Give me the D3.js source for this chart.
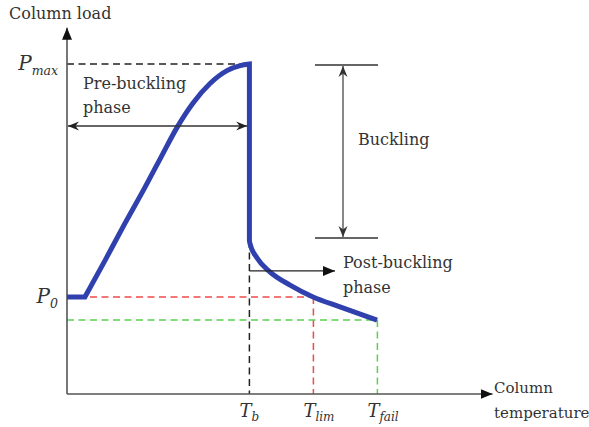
<!DOCTYPE html>
<html>
<head>
<meta charset="utf-8">
<script src="https://cdn.jsdelivr.net/npm/d3@7"></script>
<style>
  html, body { margin: 0; padding: 0; background: #fff; }
  svg { display: block; }
  text { font-family: "DejaVu Serif", "Liberation Serif", serif; fill: #333; }
</style>
</head>
<body>
<svg id="chart" width="589" height="427"></svg>
<script>
// Column load vs. column temperature (schematic)
const preTemp  = [0, 5.6, 11.9, 18.1, 24.4, 29.4, 34.4, 39.4, 44.7, 50, 54.1, 57];
const preLoad  = [29.4, 29.4, 40.5, 51.7, 62.7, 71.8, 80.8, 88.2, 94.1, 98.0, 99.5, 100];
const postTemp = [57, 57.2, 59.4, 63.4, 69.7, 76.9, 85.3, 96.9];
const postLoad = [46.4, 45.5, 41.2, 37.0, 33.0, 29.4, 26.4, 22.4];

const tickNames = ["b", "lim", "fail"];
const tickTemps = [57, 77, 97];
const loadNames = ["max", "0"];
const loadLevels = [100, 29.4];
const failLoad = 22.4;

const svg = d3.select("#chart");
const x = d3.scaleLinear().domain([0, 133]).range([67, 492.6]);
const y = d3.scaleLinear().domain([0, 111]).range([394, 27.7]);

const defs = svg.append("defs");
function marker(id, d, color, w, h) {
  defs.append("marker")
    .attr("id", id).attr("viewBox", "-12 -6 13 12")
    .attr("refX", 0).attr("refY", 0)
    .attr("markerWidth", w).attr("markerHeight", h)
    .attr("markerUnits", "userSpaceOnUse")
    .attr("orient", "auto-start-reverse")
    .append("path").attr("d", d).attr("fill", color);
}
marker("tri", "M0,0 L-12,-5 L-12,5 Z", "#111", 13, 12);
marker("stealth", "M0,0 L-11,-4.5 L-7.5,0 L-11,4.5 Z", "#222", 13, 12);
marker("stealthGray", "M0,0 L-11,-4.5 L-7.5,0 L-11,4.5 Z", "#333", 13, 12);

// reference lines (dashed)
const dash = "7,4.5";
const tb = tickTemps[0], tlim = tickTemps[1], tfail = tickTemps[2];
function dashed(x1, y1, x2, y2, color) {
  svg.append("line").attr("x1", x(x1)).attr("x2", x(x2)).attr("y1", y(y1)).attr("y2", y(y2))
    .attr("stroke", color).attr("stroke-width", 1.5).attr("stroke-dasharray", dash);
}
dashed(0, loadLevels[0], tb, loadLevels[0], "#222");
dashed(tb, postLoad[0], tb, 0, "#222");
dashed(0, loadLevels[1], tlim, loadLevels[1], "#ef4b4b");
dashed(tlim, loadLevels[1], tlim, 0, "#ef4b4b");
dashed(0, failLoad, tfail, failLoad, "#5ccf50");
dashed(tfail, failLoad, tfail, 0, "#5ccf50");

// axes with arrowheads
svg.append("line").attr("x1", x(0)).attr("x2", x(0)).attr("y1", y(0)).attr("y2", y(111))
  .attr("stroke", "#555").attr("stroke-width", 1.6).attr("marker-end", "url(#tri)");
svg.append("line").attr("x1", x(0)).attr("x2", x(133)).attr("y1", y(0)).attr("y2", y(0))
  .attr("stroke", "#555").attr("stroke-width", 1.6).attr("marker-end", "url(#tri)");

// load curve: flat start, rising branch, buckling drop, post-buckling branch
const smooth = d3.line().x(d => x(d[0])).y(d => y(d[1])).curve(d3.curveMonotoneX);
const straight = d3.line().x(d => x(d[0])).y(d => y(d[1]));
const pre = preTemp.map((t, i) => [t, preLoad[i]]);
const post = postTemp.map((t, i) => [t, postLoad[i]]);
const pathD = straight(pre.slice(0, 2))
  + smooth(pre.slice(1)).replace(/^M/, "L")
  + straight([pre[pre.length - 1], post[0]]).replace(/^M/, "L")
  + smooth(post).replace(/^M/, "L");
svg.append("path").attr("d", pathD).attr("fill", "none")
  .attr("stroke", "#3041ad").attr("stroke-width", 5)
  .attr("stroke-linejoin", "miter").attr("stroke-linecap", "butt");

// pre-buckling span arrow
svg.append("line").attr("x1", x(0.3)).attr("x2", x(56.3)).attr("y1", y(81.2)).attr("y2", y(81.2))
  .attr("stroke", "#333").attr("stroke-width", 1.4)
  .attr("marker-start", "url(#stealth)").attr("marker-end", "url(#stealth)");

// buckling bracket
const bTop = 99.7, bBot = 47.3, bx0 = 77.5, bx1 = 97.2, bxm = 86.25;
[bTop, bBot].forEach(v => {
  svg.append("line").attr("x1", x(bx0)).attr("x2", x(bx1)).attr("y1", y(v)).attr("y2", y(v))
    .attr("stroke", "#333").attr("stroke-width", 1.5);
});
svg.append("line").attr("x1", x(bxm)).attr("x2", x(bxm)).attr("y1", y(bTop) + 1).attr("y2", y(bBot) - 1)
  .attr("stroke", "#555").attr("stroke-width", 1.4)
  .attr("marker-start", "url(#stealthGray)").attr("marker-end", "url(#stealthGray)");

// post-buckling arrow
svg.append("line").attr("x1", x(tb)).attr("x2", x(83.75)).attr("y1", y(37.3)).attr("y2", y(37.3))
  .attr("stroke", "#222").attr("stroke-width", 1.4).attr("marker-end", "url(#tri)");

// text labels
function label(tx, ty, str, size) {
  return svg.append("text").attr("x", tx).attr("y", ty).attr("font-size", size).text(str);
}
label(9, 19, "Column load", 16);
label(83, 89, "Pre-buckling", 16);
label(83, 113, "phase", 16);
label(358, 145, "Buckling", 16);
label(343, 268, "Post-buckling", 16);
label(343, 293, "phase", 16);
label(494, 393, "Column", 15);
label(494, 418, "temperature", 15);

// load level labels P_max, P_0
loadLevels.forEach((v, i) => {
  const t = svg.append("text")
    .attr("x", x(0) - 9).attr("y", y(v) + 6)
    .attr("text-anchor", "end")
    .attr("font-style", "italic").attr("font-size", 20);
  t.append("tspan").text("P");
  t.append("tspan").attr("font-size", 12.5).attr("dy", 5).text(loadNames[i]);
});

// temperature tick labels
tickTemps.forEach((v, i) => {
  const t = svg.append("text")
    .attr("x", x(v) - 10).attr("y", y(0) + 23)
    .attr("font-style", "italic").attr("font-size", 18);
  t.append("tspan").text("T");
  t.append("tspan").attr("font-size", 12).attr("dy", 4).text(tickNames[i]);
});
</script>
</body>
</html>
